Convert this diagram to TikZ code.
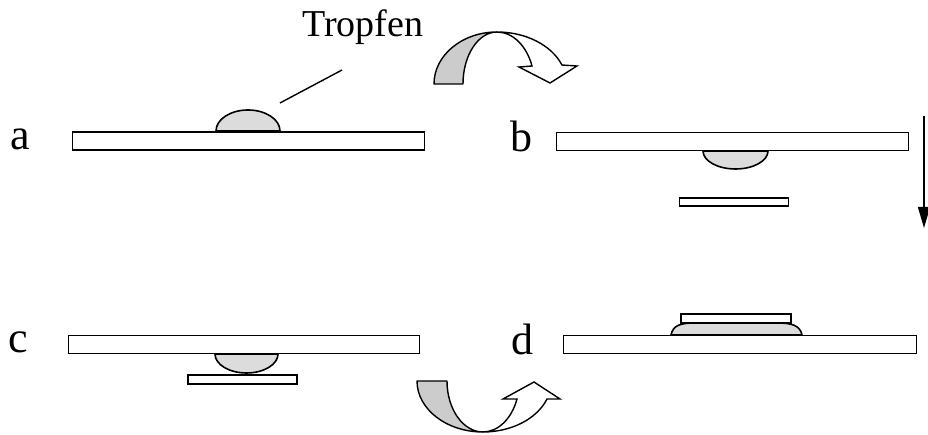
\documentclass[tikz,border=0pt]{standalone}
\usepackage{fontspec}
\setmainfont{Liberation Serif}
\usepackage{tikz}
\usetikzlibrary{arrows.meta}
\definecolor{dropgray}{HTML}{DCDCDC}
\definecolor{bandgray}{HTML}{CCCCCC}

\begin{document}
\begin{tikzpicture}[
    x=1pt, y=1pt,
    plate/.style={draw, fill=white, line width=1.6pt, inner sep=0pt, minimum height=18pt},
    slide/.style={draw, fill=white, line width=1.6pt, inner sep=0pt, minimum height=8.5pt, minimum width=109pt},
    drop/.style={draw, fill=dropgray, line width=1.6pt},
    band/.style={draw, fill=bandgray, line width=1.4pt, line join=round},
    flip/.style={draw, fill=white, line width=1.4pt, line join=miter},
    letter/.style={anchor=base west, inner sep=0pt, font=\fontsize{44}{44}\selectfont},
    arr/.style={-{Triangle[length=21pt,width=12pt]}, line width=1.4pt}
]
\useasboundingbox (0,0) rectangle (928,435);

% a: drop lying on the plate
\node[plate, minimum width=352pt] (plateA) at (248.5,294.25) {};
\draw[drop] (216,304) arc[start angle=180, end angle=0, x radius=32pt, y radius=21pt] -- cycle;
\node[letter] (labA) at (10,285) {a};
\node[anchor=base west, inner sep=0pt, font=\fontsize{38}{38}\selectfont] (tropfen) at (302,398) {Tropfen};
\coordinate (dropTip) at (280,332);
\coordinate (textEnd) at (342,365);
\draw[line width=1.4pt] (dropTip) -- (textEnd);

% turning over
\draw[band] (434,351) arc[start angle=180, end angle=90, x radius=63pt, y radius=52pt]
    arc[start angle=90, end angle=180, x radius=34pt, y radius=52pt] -- cycle;
\draw[flip] (497,403) arc[start angle=90, end angle=21.4, x radius=69.8pt, y radius=52pt]
    -- (577,369) -- (550,352) -- (519,368) -- (532,369)
    arc[start angle=20.3, end angle=90, x radius=37.3pt, y radius=52pt] -- cycle;

% b: drop hanging, slide underneath
\draw[drop] (703,284) arc[start angle=180, end angle=360, x radius=32.5pt, y radius=18pt] -- cycle;
\node[plate, minimum width=352pt] (plateB) at (732.5,293.5) {};
\node[slide] (slideB) at (734,233) {};
\node[letter] (labB) at (510,283) {b};
\coordinate (downTop) at (924,319);
\coordinate (downEnd) at (924,207);
\draw[arr] (downTop) -- (downEnd);

% c: slide touches the drop
\draw[drop] (215,81) arc[start angle=180, end angle=360, x radius=31.5pt, y radius=19pt] -- cycle;
\node[plate, minimum width=351pt] (plateC) at (244,90.5) {};
\node[slide] (slideC) at (242.5,55.5) {};
\node[letter] (labC) at (8,82) {c};

% turning back
\draw[band] (417,54) arc[start angle=180, end angle=270, x radius=66pt, y radius=51pt]
    arc[start angle=270, end angle=180, x radius=36pt, y radius=51pt] -- cycle;
\draw[flip] (483,3) arc[start angle=270, end angle=339.3, x radius=68.4pt, y radius=51pt]
    -- (560,36) -- (534,53) -- (503,36) -- (517,36)
    arc[start angle=339.3, end angle=270, x radius=36.4pt, y radius=51pt] -- cycle;

% d: drop spread under the slide
\node[plate, minimum width=353pt] (plateD) at (740,90.5) {};
\draw[drop] (671,100) .. controls (673,110) and (681,112) .. (695,112) -- (777,112)
    .. controls (791,112) and (800,110) .. (802,100) -- cycle;
\node[slide, minimum width=110pt] (slideD) at (736,116.5) {};
\node[letter] (labD) at (511,80) {d};
\end{tikzpicture}
\end{document}
